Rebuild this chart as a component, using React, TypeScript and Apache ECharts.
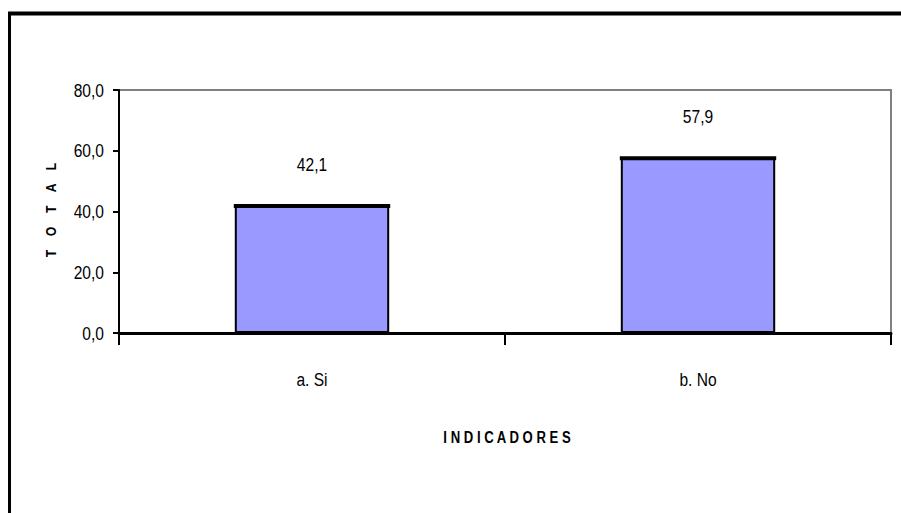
import React, { useEffect, useRef } from "react";
import * as echarts from "echarts";

const categories = ["a. Si", "b. No"];
const values = [42.1, 57.9];
const yTicks = [0, 20, 40, 60, 80];
const xTitle = "I N D I C A D O R E S";
const yTitle = "T    O    T    A    L";

const FONT = "'Liberation Sans', Arial, sans-serif";
const NARROW = 0.82;
const fmt = (v: number) => v.toFixed(1).replace(".", ",");

export default function App() {
  const ref = useRef<HTMLDivElement>(null);
  useEffect(() => {
    document.body.style.margin = "0";
    const chart = echarts.init(ref.current!, null, { renderer: "svg" });
    chart.setOption({
      animation: false,
      backgroundColor: "#ffffff",
      grid: {
        left: 119,
        right: 10,
        top: 90,
        bottom: 180,
        show: true,
        borderColor: "#808080",
        borderWidth: 2,
        backgroundColor: "transparent",
      },
      xAxis: {
        type: "category",
        data: categories,
        boundaryGap: true,
        axisLine: { lineStyle: { color: "#000", width: 3 } },
        axisTick: { show: true, length: 12, lineStyle: { color: "#000", width: 2 } },
        axisLabel: { show: false },
      },
      yAxis: {
        type: "value",
        min: yTicks[0],
        max: yTicks[yTicks.length - 1],
        interval: 20,
        splitLine: { show: false },
        axisLine: { show: true, lineStyle: { color: "#000", width: 2 } },
        axisTick: { show: true, length: 6, lineStyle: { color: "#000", width: 2 } },
        axisLabel: { show: false },
      },
      series: [
        {
          type: "bar",
          data: values,
          barWidth: "40%",
          itemStyle: { color: "#9999FF", borderColor: "#000", borderWidth: 2 },
          z: 2,
        },
        {
          type: "custom",
          data: values.map((v, i) => [i, v]),
          z: 3,
          renderItem: (params: any, api: any) => {
            const p = api.coord([api.value(0), api.value(1)]);
            const w = api.size([1, 0])[0] * 0.4;
            return {
              type: "line",
              shape: { x1: p[0] - w / 2 - 1, y1: p[1] + 1, x2: p[0] + w / 2 + 1, y2: p[1] + 1 },
              style: { stroke: "#000", lineWidth: 4 },
            };
          },
        },
      ],
    });

    const txt = (text: string, x: number, y: number, align: string, size: number, bold = false, rotation = 0) => ({
      type: "text",
      x,
      y,
      rotation,
      scaleX: NARROW,
      z: 10,
      style: {
        text,
        fill: "#000",
        fontSize: size,
        fontWeight: bold ? "bold" : "normal",
        fontFamily: FONT,
        align,
        verticalAlign: "middle",
        textAlign: align,
        textVerticalAlign: "middle",
      },
    });

    const graphics: any[] = [
      { type: "line", z: 10, shape: { x1: 8, y1: 13.5, x2: 901, y2: 13.5 }, style: { stroke: "#000", lineWidth: 4 } },
      { type: "line", z: 10, shape: { x1: 9.5, y1: 12, x2: 9.5, y2: 513 }, style: { stroke: "#000", lineWidth: 3 } },
    ];
    yTicks.forEach((t) => {
      const p = chart.convertToPixel({ gridIndex: 0 }, [0, t]) as number[];
      graphics.push(txt(fmt(t), 104, p[1], "right", 19));
    });
    categories.forEach((c, i) => {
      const base = chart.convertToPixel({ gridIndex: 0 }, [i, 0]) as number[];
      graphics.push(txt(c, base[0], base[1] + 46, "center", 19));
      const top = chart.convertToPixel({ gridIndex: 0 }, [i, values[i]]) as number[];
      graphics.push(txt(fmt(values[i]), top[0], top[1] - 41, "center", 19));
    });
    const g0 = chart.convertToPixel({ gridIndex: 0 }, [0, 0]) as number[];
    const g1 = chart.convertToPixel({ gridIndex: 0 }, [1, 0]) as number[];
    const midX = (g0[0] + g1[0]) / 2;
    graphics.push(txt(xTitle, midX + 2, 438, "center", 16, true));
    graphics.push(txt(yTitle, 51, 210, "center", 15, true, Math.PI / 2));
    chart.setOption({ graphic: graphics });

    return () => chart.dispose();
  }, []);
  return <div ref={ref} style={{ position: "absolute", left: 0, top: 0, width: 901, height: 513 }} />;
}
